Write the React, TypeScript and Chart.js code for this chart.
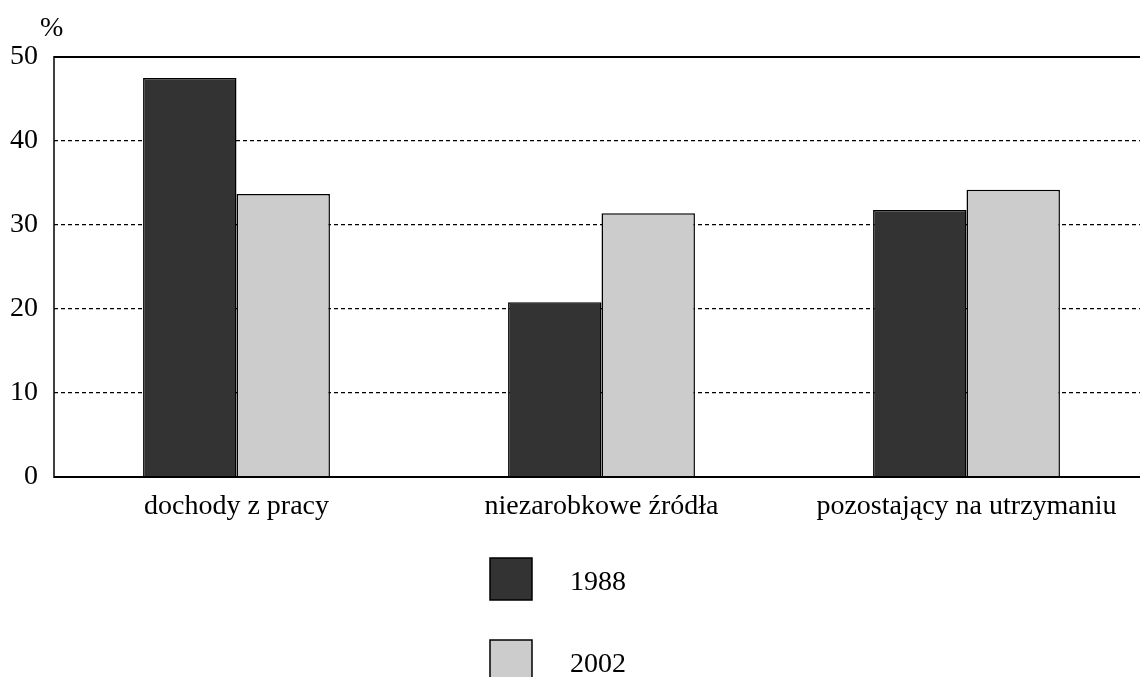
import React, { useEffect, useRef } from "react";
import { Chart, registerables } from "chart.js";

Chart.register(...registerables);

const categories = ["dochody z pracy", "niezarobkowe źródła", "pozostający na utrzymaniu"];
const seriesLabels = ["1988", "2002"];
const values1988 = [47.5, 20.8, 31.8];
const values2002 = [33.7, 31.4, 34.2];
const yMin = 0;
const yMax = 50;
const yStep = 10;
const unitLabel = "%";

const FONT = "'Liberation Serif', 'Times New Roman', serif";

const framePlugin = {
  id: "frame",
  afterDatasetsDraw(chart: any) {
    const { ctx, chartArea } = chart;
    const { left, right, top, bottom } = chartArea;
    ctx.save();
    ctx.strokeStyle = "#000";
    ctx.setLineDash([]);
    ctx.lineWidth = 2;
    ctx.beginPath();
    ctx.moveTo(left, top);
    ctx.lineTo(right, top);
    ctx.moveTo(left, bottom);
    ctx.lineTo(right, bottom);
    ctx.stroke();
    ctx.lineWidth = 1.5;
    ctx.beginPath();
    ctx.moveTo(left, top - 1);
    ctx.lineTo(left, bottom + 1);
    ctx.stroke();
    ctx.restore();
  },
  afterDraw(chart: any) {
    const { ctx } = chart;
    ctx.save();
    ctx.font = `28px ${FONT}`;
    ctx.fillStyle = "#000";
    ctx.textAlign = "left";
    ctx.textBaseline = "alphabetic";
    ctx.fillText(unitLabel, 40, 36);
    // legend (vertical column)
    const datasets = chart.data.datasets;
    const boxX = 490;
    const boxTop = 558;
    const rowGap = 82;
    const box = 42;
    datasets.forEach((ds: any, i: number) => {
      const y = boxTop + i * rowGap;
      ctx.fillStyle = ds.backgroundColor;
      ctx.fillRect(boxX, y, box, box);
      ctx.strokeStyle = "#000";
      ctx.lineWidth = 1.5;
      ctx.strokeRect(boxX, y, box, box);
      ctx.fillStyle = "#000";
      ctx.fillText(ds.label, 570, y + 32);
    });
    ctx.restore();
  },
};

export default function App() {
  const ref = useRef<HTMLCanvasElement | null>(null);
  useEffect(() => {
    if (!ref.current) return;
    const chart = new Chart(ref.current, {
      type: "bar",
      data: {
        labels: categories,
        datasets: [
          {
            label: seriesLabels[0],
            data: values1988,
            backgroundColor: "#333333",
            borderColor: "#000",
            borderWidth: 1.5,
            categoryPercentage: 0.512,
            barPercentage: 1,
          },
          {
            label: seriesLabels[1],
            data: values2002,
            backgroundColor: "#cccccc",
            borderColor: "#000",
            borderWidth: 1.5,
            categoryPercentage: 0.512,
            barPercentage: 1,
          },
        ],
      },
      options: {
        animation: false,
        responsive: true,
        maintainAspectRatio: false,
        layout: { padding: { left: 0, right: 1, top: 57, bottom: 139 } },
        plugins: {
          legend: { display: false },
          tooltip: { enabled: false },
          title: { display: false },
        },
        scales: {
          x: {
            grid: { display: false, drawTicks: false },
            border: { display: false },
            ticks: {
              color: "#000",
              font: { family: FONT, size: 28 },
              padding: 13,
              maxRotation: 0,
              autoSkip: false,
            },
            afterFit: (s: any) => {
              s.height = 61;
            },
          },
          y: {
            min: yMin,
            max: yMax,
            border: { display: false, dash: [4, 3] },
            grid: {
              drawTicks: false,
              color: (c: any) =>
                c.tick && (c.tick.value === yMin || c.tick.value === yMax) ? "rgba(0,0,0,0)" : "#000",
              lineWidth: 1.3,
            },
            ticks: {
              stepSize: yStep,
              color: "#000",
              font: { family: FONT, size: 28 },
              padding: 16,
            },
            afterFit: (s: any) => {
              s.width = 54;
            },
          },
        },
      },
      plugins: [framePlugin],
    });
    return () => chart.destroy();
  }, []);
  return (
    <div style={{ position: "absolute", left: 0, top: 0, width: 1140, height: 677, overflow: "hidden", background: "#fff" }}>
      <div style={{ position: "relative", width: 1150, height: 677 }}>
        <canvas ref={ref} />
      </div>
    </div>
  );
}
